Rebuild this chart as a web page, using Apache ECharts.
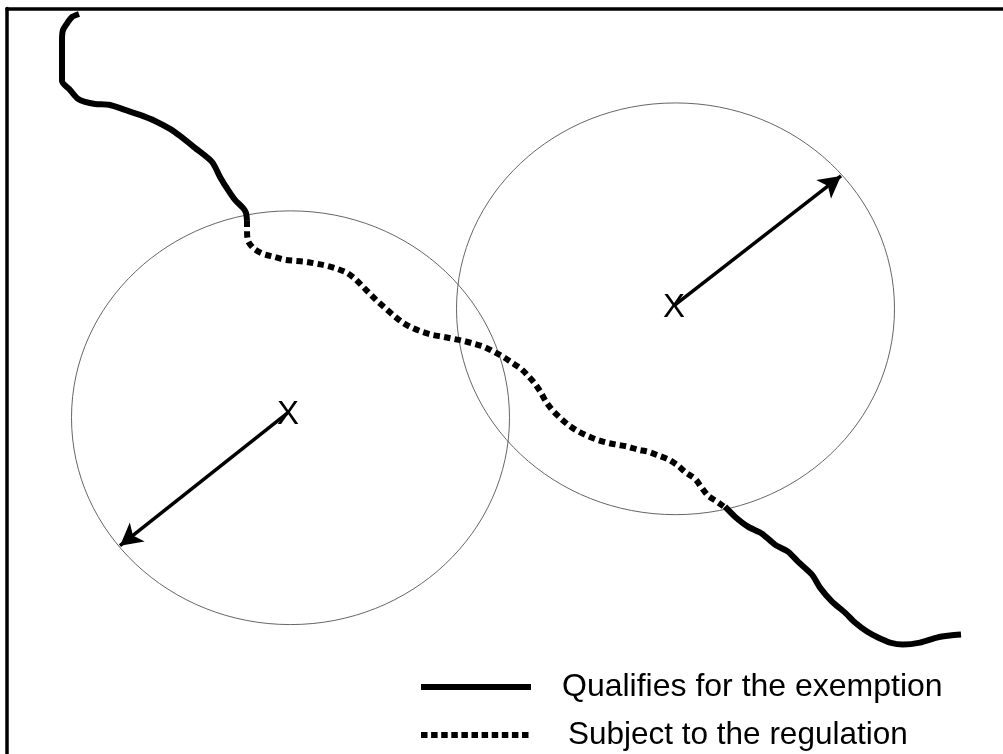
<!DOCTYPE html>
<html><head><meta charset="utf-8">
<style>html,body{margin:0;padding:0;background:#fff}#c{width:1003px;height:754px}</style>
<script src="https://cdn.jsdelivr.net/npm/echarts@6/dist/echarts.min.js"></script>
</head><body><div id="c"></div>
<script>
const solidUpper=[[79,14],[72,17],[68,22],[63,30],[62,40],[62,60],[62,81],[70,90],[78,99],[85,102],[95,104],[110,105],[125,110],[140,115],[155,121],[170,129],[180,136],[195,148],[212,162],[220,177],[228,190],[235,200],[243,208],[246,213],[247,221]];
const dotted=[[247,221],[247,230],[248,241],[254,249],[263,254],[274,257],[285,260],[295,261],[306,262],[317,264],[327,266],[337,269],[347,273],[355,279],[363,287],[371,295],[378,302],[386,309],[394,316],[403,323],[412,328],[422,332],[432,335],[443,337],[453,339],[463,341],[474,344],[484,347],[494,352],[503,357],[512,363],[521,369],[528,376],[535,384],[541,393],[546,402],[552,410],[560,418],[568,425],[577,431],[587,436],[597,440],[607,443],[617,445],[628,447],[638,450],[648,452],[659,456],[669,460],[678,466],[686,473],[695,479],[701,487],[708,496],[717,502],[724,507]];
const solidLower=[[725,507],[735,517],[748,527],[762,534],[775,545],[788,552],[798,562],[812,575],[820,588],[832,602],[845,613],[855,623],[867,632],[878,638],[890,643],[903,645],[920,643],[937,638],[950,636],[961,635]];
const circles=[[290.5,418,219,207],[675.5,309,219,206]];
const arrows=[[[288,413],[120,546]],[[675,305],[841,176]]];
const centers=[[288,415],[674,308]];
const legendNames=['Qualifies for the exemption','Subject to the regulation'];
const lineBase={type:'line',showSymbol:false,symbol:'none',animation:false,silent:true,z:5,smooth:0.25};
const chart=echarts.init(document.getElementById('c'),null,{renderer:'canvas'});
const frame={show:true,onZero:false,lineStyle:{color:'#000',width:3.5}};
chart.setOption({
 animation:false,backgroundColor:'#fff',
 grid:{left:7,top:8.5,width:996,height:746,show:false},
 xAxis:{type:'value',min:7,max:1003,position:'top',axisLine:frame,axisTick:{show:false},axisLabel:{show:false},splitLine:{show:false}},
 yAxis:{type:'value',min:8.5,max:754.5,inverse:true,position:'left',axisLine:frame,axisTick:{show:false},axisLabel:{show:false},splitLine:{show:false}},
 legend:[
  {data:[legendNames[0]],left:418,top:671,itemWidth:110,itemHeight:32,itemGap:0,padding:0,itemStyle:{opacity:0,borderWidth:0},lineStyle:{color:'#000',width:6,type:'solid',cap:'butt'},textStyle:{color:'#000',fontFamily:'Liberation Sans',fontSize:32,padding:[0,0,0,26]}},
  {data:[legendNames[1]],left:418,top:719,itemWidth:110,itemHeight:32,itemGap:0,padding:0,itemStyle:{opacity:0,borderWidth:0},lineStyle:{color:'#000',width:6,type:[6.5,3.6],cap:'butt'},textStyle:{color:'#000',fontFamily:'Liberation Sans',fontSize:31.5,padding:[0,0,0,32]}}
 ],
 series:[
  {type:'custom',coordinateSystem:'cartesian2d',silent:true,z:2,data:circles,encode:{x:0,y:1},
   renderItem(p,api){const c=api.coord([api.value(0),api.value(1)]);const s=api.size([api.value(2),api.value(3)]);
    return {type:'ellipse',shape:{cx:c[0],cy:c[1],rx:s[0],ry:s[1]},style:{fill:null,stroke:'#666',lineWidth:1}};}},
  {...lineBase,name:legendNames[0],data:solidUpper,itemStyle:{color:'#000'},lineStyle:{color:'#000',width:6,join:'round',cap:'butt'}},
  {...lineBase,name:legendNames[0],data:solidLower,itemStyle:{color:'#000'},lineStyle:{color:'#000',width:6,join:'round',cap:'butt'}},
  {...lineBase,name:legendNames[1],data:dotted,itemStyle:{color:'#000'},lineStyle:{color:'#000',width:6,type:[6,4.7],cap:'butt',join:'miter'}},
  {...lineBase,name:'arrows',data:[],markLine:{silent:true,animation:false,symbol:['none','arrow'],symbolSize:[18,22],lineStyle:{color:'#000',width:3.5,type:'solid'},label:{show:false},
    data:arrows.map(a=>[{coord:a[0]},{coord:a[1]}])}},
  {type:'scatter',name:'centres',silent:true,z:6,symbol:'circle',symbolSize:1,itemStyle:{color:'#000',opacity:0},data:centers,label:{show:true,position:'inside',formatter:'X',color:'#000',opacity:1,textBorderWidth:0,fontFamily:'Liberation Sans',fontSize:33}}
 ]
});
</script></body></html>
